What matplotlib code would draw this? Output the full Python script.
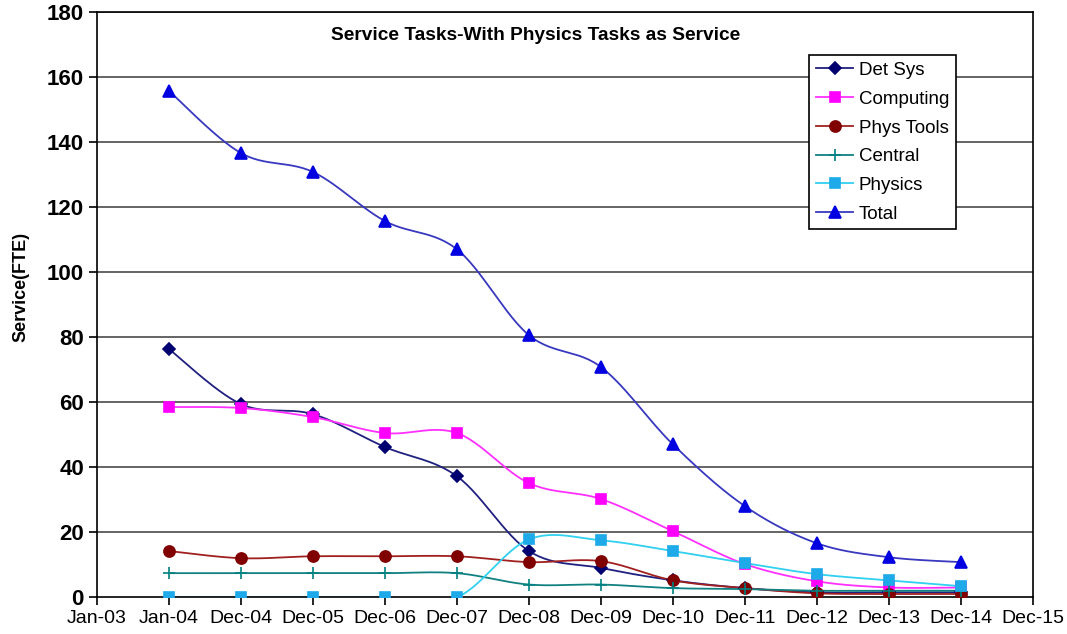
import numpy as np
import matplotlib
matplotlib.use('Agg')
import matplotlib.pyplot as plt
from matplotlib.lines import Line2D

plt.rcParams['font.family'] = ['Liberation Sans', 'DejaVu Sans']

# axis labels (Jan-03 .. Dec-15), data sits on Jan-04 .. Dec-14
tick_labels = ['Jan-03', 'Jan-04', 'Dec-04', 'Dec-05', 'Dec-06', 'Dec-07', 'Dec-08',
               'Dec-09', 'Dec-10', 'Dec-11', 'Dec-12', 'Dec-13', 'Dec-14', 'Dec-15']

det_sys = [76.3, 59.4, 56.3, 46.2, 37.2, 14.2, 9.0, 5.2, 2.8, 1.5, 1.5, 1.5]
computing = [58.5, 58.2, 55.4, 50.5, 50.5, 35.1, 30.2, 20.3, 10.2, 4.9, 3.0, 3.0]
phys_tools = [14.2, 12.0, 12.6, 12.6, 12.6, 10.8, 11.1, 5.2, 2.8, 1.2, 1.0, 1.0]
central = [7.4, 7.4, 7.4, 7.4, 7.4, 3.9, 3.9, 2.8, 2.5, 2.0, 2.0, 2.0]
physics = [0.0, 0.0, 0.0, 0.0, 0.0, 17.8, 17.5, 14.2, 10.5, 7.1, 5.2, 3.4]
total = [155.7, 136.6, 130.8, 115.7, 107.0, 80.6, 70.8, 47.0, 28.0, 16.6, 12.3, 10.8]


def smooth(x, y, n=30):
    # cardinal (catmull-rom) bezier curve through the points, like Excel's smoothed line
    x = np.asarray(x, float)
    y = np.asarray(y, float)
    px, py = [], []
    t = np.linspace(0, 1, n)
    for i in range(len(x) - 1):
        i0 = max(i - 1, 0)
        i3 = min(i + 2, len(x) - 1)
        p0 = np.array([x[i], y[i]])
        p3 = np.array([x[i + 1], y[i + 1]])
        p1 = p0 + (np.array([x[i + 1], y[i + 1]]) - np.array([x[i0], y[i0]])) / 6
        p2 = p3 - (np.array([x[i3], y[i3]]) - np.array([x[i], y[i]])) / 6
        b = ((1 - t) ** 3)[:, None] * p0 + (3 * (1 - t) ** 2 * t)[:, None] * p1 \
            + (3 * (1 - t) * t ** 2)[:, None] * p2 + (t ** 3)[:, None] * p3
        px.extend(b[:, 0])
        py.extend(b[:, 1])
    return px, py


# name, values, line colour, marker colour, marker, marker size
series = [
    ('Det Sys', det_sys, '#202080', '#000070', 'D', 6),
    ('Computing', computing, '#FF30FF', '#FF00FF', 's', 7),
    ('Phys Tools', phys_tools, '#A02020', '#800000', 'o', 8),
    ('Central', central, '#108080', '#008080', '+', 9),
    ('Physics', physics, '#30D0F0', '#1EAAE8', 's', 7),
    ('Total', total, '#3838C0', '#0000E0', '^', 8),
]

x = np.arange(1, 13)

fig = plt.figure(figsize=(10.67, 6.34), dpi=100)
ax = fig.add_axes([0.091, 0.058, 0.877, 0.923])

for y in range(20, 181, 20):
    ax.axhline(y, color='#3a3a3a', lw=1.1, zorder=1)

handles = []
for name, vals, lc, mc, mk, ms in series:
    sx, sy = smooth(x, vals)
    ax.plot(sx, sy, color=lc, lw=1.3, zorder=2)
    ax.plot(x, vals, linestyle='none', marker=mk, color=mc, markersize=ms,
            markeredgewidth=1.2, zorder=3)
    handles.append(Line2D([], [], color=lc, lw=1.3, marker=mk, markersize=ms,
                          markerfacecolor=mc, markeredgecolor=mc,
                          markeredgewidth=1.2, label=name))

ax.set_xlim(0, 13)
ax.set_ylim(0, 180)
ax.set_xticks(range(len(tick_labels)))
ax.set_xticklabels(tick_labels, fontsize=14)
ax.set_yticks(range(0, 181, 20))
ax.set_yticklabels([str(v) for v in range(0, 181, 20)], fontsize=16, fontweight='bold')
ax.tick_params(axis='both', direction='out', length=6, width=1.2, color='black')
for s in ax.spines.values():
    s.set_color('black')
    s.set_linewidth(1.2)

ax.set_ylabel('Service(FTE)', fontsize=13, fontweight='bold')
ax.yaxis.set_label_coords(-0.072, 0.53)
ax.text(0.4685, 0.96, 'Service Tasks-With Physics Tasks as Service', transform=ax.transAxes,
        ha='center', va='center', fontsize=13.8, fontweight='bold')

leg = ax.legend(handles=handles, loc='upper left', bbox_to_anchor=(0.761, 0.926),
                fontsize=13.5, frameon=True, fancybox=False, framealpha=1,
                edgecolor='black', handlelength=2.0, handletextpad=0.3,
                borderpad=0.35, borderaxespad=0, labelspacing=0.62)
leg.get_frame().set_linewidth(1.2)

fig.savefig('out.png', dpi=100)
